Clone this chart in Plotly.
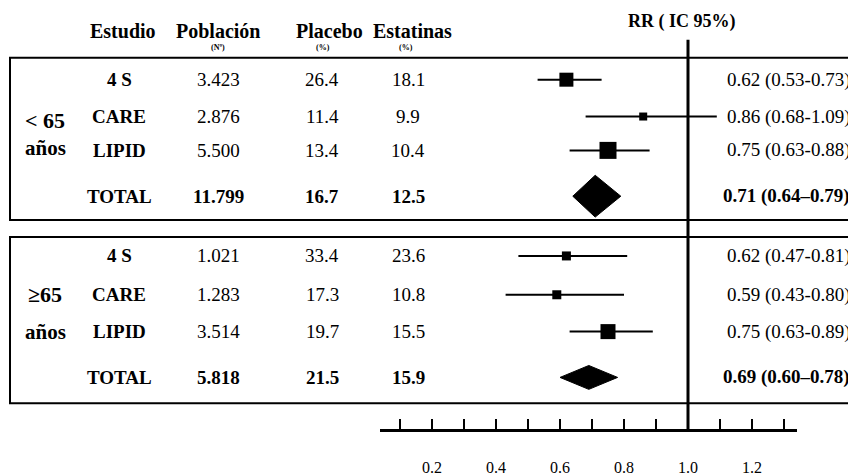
import plotly.graph_objects as go

# ---------------- data ----------------
estudios = ["4 S", "CARE", "LIPID", "TOTAL"]
grupos = [("< 65", "años"), ("≥65", "años")]

poblacion_menor65 = [3423, 2876, 5500, 11799]
placebo_menor65 = [26.4, 11.4, 13.4, 16.7]
estatinas_menor65 = [18.1, 9.9, 10.4, 12.5]
rr_menor65 = [0.62, 0.86, 0.75, 0.71]
ic_inf_menor65 = [0.53, 0.68, 0.63, 0.64]
ic_sup_menor65 = [0.73, 1.09, 0.88, 0.79]

poblacion_mayor65 = [1021, 1283, 3514, 5818]
placebo_mayor65 = [33.4, 17.3, 19.7, 21.5]
estatinas_mayor65 = [23.6, 10.8, 15.5, 15.9]
rr_mayor65 = [0.62, 0.59, 0.75, 0.69]
ic_inf_mayor65 = [0.47, 0.43, 0.63, 0.60]
ic_sup_mayor65 = [0.81, 0.80, 0.89, 0.78]

encabezados = ["Estudio", "Población", "Placebo", "Estatinas"]
subencabezados = ["(Nº)", "(%)", "(%)"]
titulo_rr = "RR ( IC 95%)"

# ---------------- layout / style constants ----------------
OFF = 8                      # page body margin of the html page
W, H = 856 - OFF, 476 - OFF  # figure size so it fills the window
X_ONE = 688 - OFF            # figure pixel of RR = 1.0
PX_UNIT = 320                # pixels per RR unit
AX_X0, AX_X1 = 380 - OFF, 797 - OFF
AX_Y = 432 - OFF
FONT = "Liberation Serif"

row_y = [[80, 117, 151, 197], [257, 296, 333, 379]]
box_y = [(58, 221), (238, 405)]
marker_sizes = [[14, 8, 17], [9, 9, 15]]
diamond_half_h = [21, 12]
group_label_y = [(121, 149), (296, 333)]

col_x = {"est": 119, "pob": 218, "pla": 322, "sta": 408}


def v_of_px(p):
    return 1 + (p - X_ONE) / PX_UNIT


def fy(y_page):
    return y_page - OFF


def fmt_pob(n):
    return f"{n:,}".replace(",", ".")


fig = go.Figure()
ann = []


def text(x_page, y_page, s, size=19, bold=False, xanchor="center"):
    if bold:
        s = f"<b>{s}</b>"
    ann.append(dict(x=(x_page - OFF) / W, xref="paper", y=fy(y_page), yref="y", text=s,
                    showarrow=False, xanchor=xanchor, yanchor="middle",
                    font=dict(family=FONT, size=size, color="black")))


# headers
text(123, 31, encabezados[0], size=20, bold=True)
text(218, 31, encabezados[1], size=20, bold=True)
text(329, 31, encabezados[2], size=20, bold=True)
text(412, 31, encabezados[3], size=20, bold=True)
text(218, 48, subencabezados[0], size=8, bold=True)
text(323, 48, subencabezados[1], size=8, bold=True)
text(406, 48, subencabezados[2], size=8, bold=True)
text(682, 22, titulo_rr, size=18, bold=True)

groups = [
    (poblacion_menor65, placebo_menor65, estatinas_menor65, rr_menor65, ic_inf_menor65, ic_sup_menor65),
    (poblacion_mayor65, placebo_mayor65, estatinas_mayor65, rr_mayor65, ic_inf_mayor65, ic_sup_mayor65),
]

shapes = []
for g, (pob, pla, sta, rr, lo, hi) in enumerate(groups):
    rows = [fy(r) for r in row_y[g]]
    # group label
    text(45, group_label_y[g][0], grupos[g][0], size=22, bold=True)
    text(45, group_label_y[g][1], grupos[g][1], size=21, bold=True)
    for i, name in enumerate(estudios):
        tot = name == "TOTAL"
        y = row_y[g][i]
        text(col_x["est"], y, name, size=19, bold=True)
        text(col_x["pob"], y, fmt_pob(pob[i]), bold=tot)
        text(col_x["pla"], y, f"{pla[i]:.1f}", bold=tot)
        text(col_x["sta"], y, f"{sta[i]:.1f}", bold=tot)
        dash = "–" if tot else "-"
        text(852, y, f"{rr[i]:.2f} ({lo[i]:.2f}{dash}{hi[i]:.2f})", bold=tot, xanchor="right")

    # studies: squares with CI
    fig.add_trace(go.Scatter(
        x=rr[:3], y=rows[:3], mode="markers",
        marker=dict(symbol="square", size=marker_sizes[g], color="black",
                    opacity=1, line=dict(width=0)),
        error_x=dict(type="data", symmetric=False,
                     array=[hi[i] - rr[i] for i in range(3)],
                     arrayminus=[rr[i] - lo[i] for i in range(3)],
                     width=0, thickness=2, color="black"),
        hoverinfo="skip"))
    # total: diamond
    yt = rows[3]
    h = diamond_half_h[g]
    fig.add_trace(go.Scatter(
        x=[lo[3], rr[3], hi[3], rr[3], lo[3]],
        y=[yt, yt - h, yt, yt + h, yt],
        mode="lines", fill="toself", fillcolor="black",
        line=dict(color="black", width=1), hoverinfo="skip"))

    y0, y1 = box_y[g]
    shapes.append(dict(type="rect", xref="paper", yref="y", x0=(10 - OFF) / W, x1=(870 - OFF) / W,
                       y0=fy(y0), y1=fy(y1), line=dict(color="black", width=2), layer="below"))

# reference line at RR = 1
shapes.append(dict(type="line", xref="x", yref="y", x0=1, x1=1, y0=fy(40), y1=AX_Y,
                   line=dict(color="black", width=3)))

fig.update_layout(
    width=W, height=H,
    margin=dict(l=0, r=0, t=0, b=0),
    paper_bgcolor="white", plot_bgcolor="rgba(0,0,0,0)",
    showlegend=False,
    xaxis=dict(
        domain=[AX_X0 / W, AX_X1 / W],
        range=[v_of_px(AX_X0), v_of_px(AX_X1)],
        anchor="free", position=(H - AX_Y) / H,
        showline=True, linewidth=3, linecolor="black",
        ticks="inside", ticklen=10, tickwidth=1.5, tickcolor="black",
        tick0=0.2, dtick=0.2, tickformat=".1f",
        tickfont=dict(family=FONT, size=16, color="black"),
        ticklabelstandoff=22,
        minor=dict(tick0=0.1, dtick=0.1, ticks="inside", ticklen=10,
                   tickwidth=1.5, tickcolor="black", showgrid=False),
        showgrid=False, zeroline=False, fixedrange=True,
    ),
    yaxis=dict(domain=[0, 1], range=[H, 0], visible=False, fixedrange=True),
    annotations=ann,
    shapes=shapes,
)

fig.write_html("out.html")
